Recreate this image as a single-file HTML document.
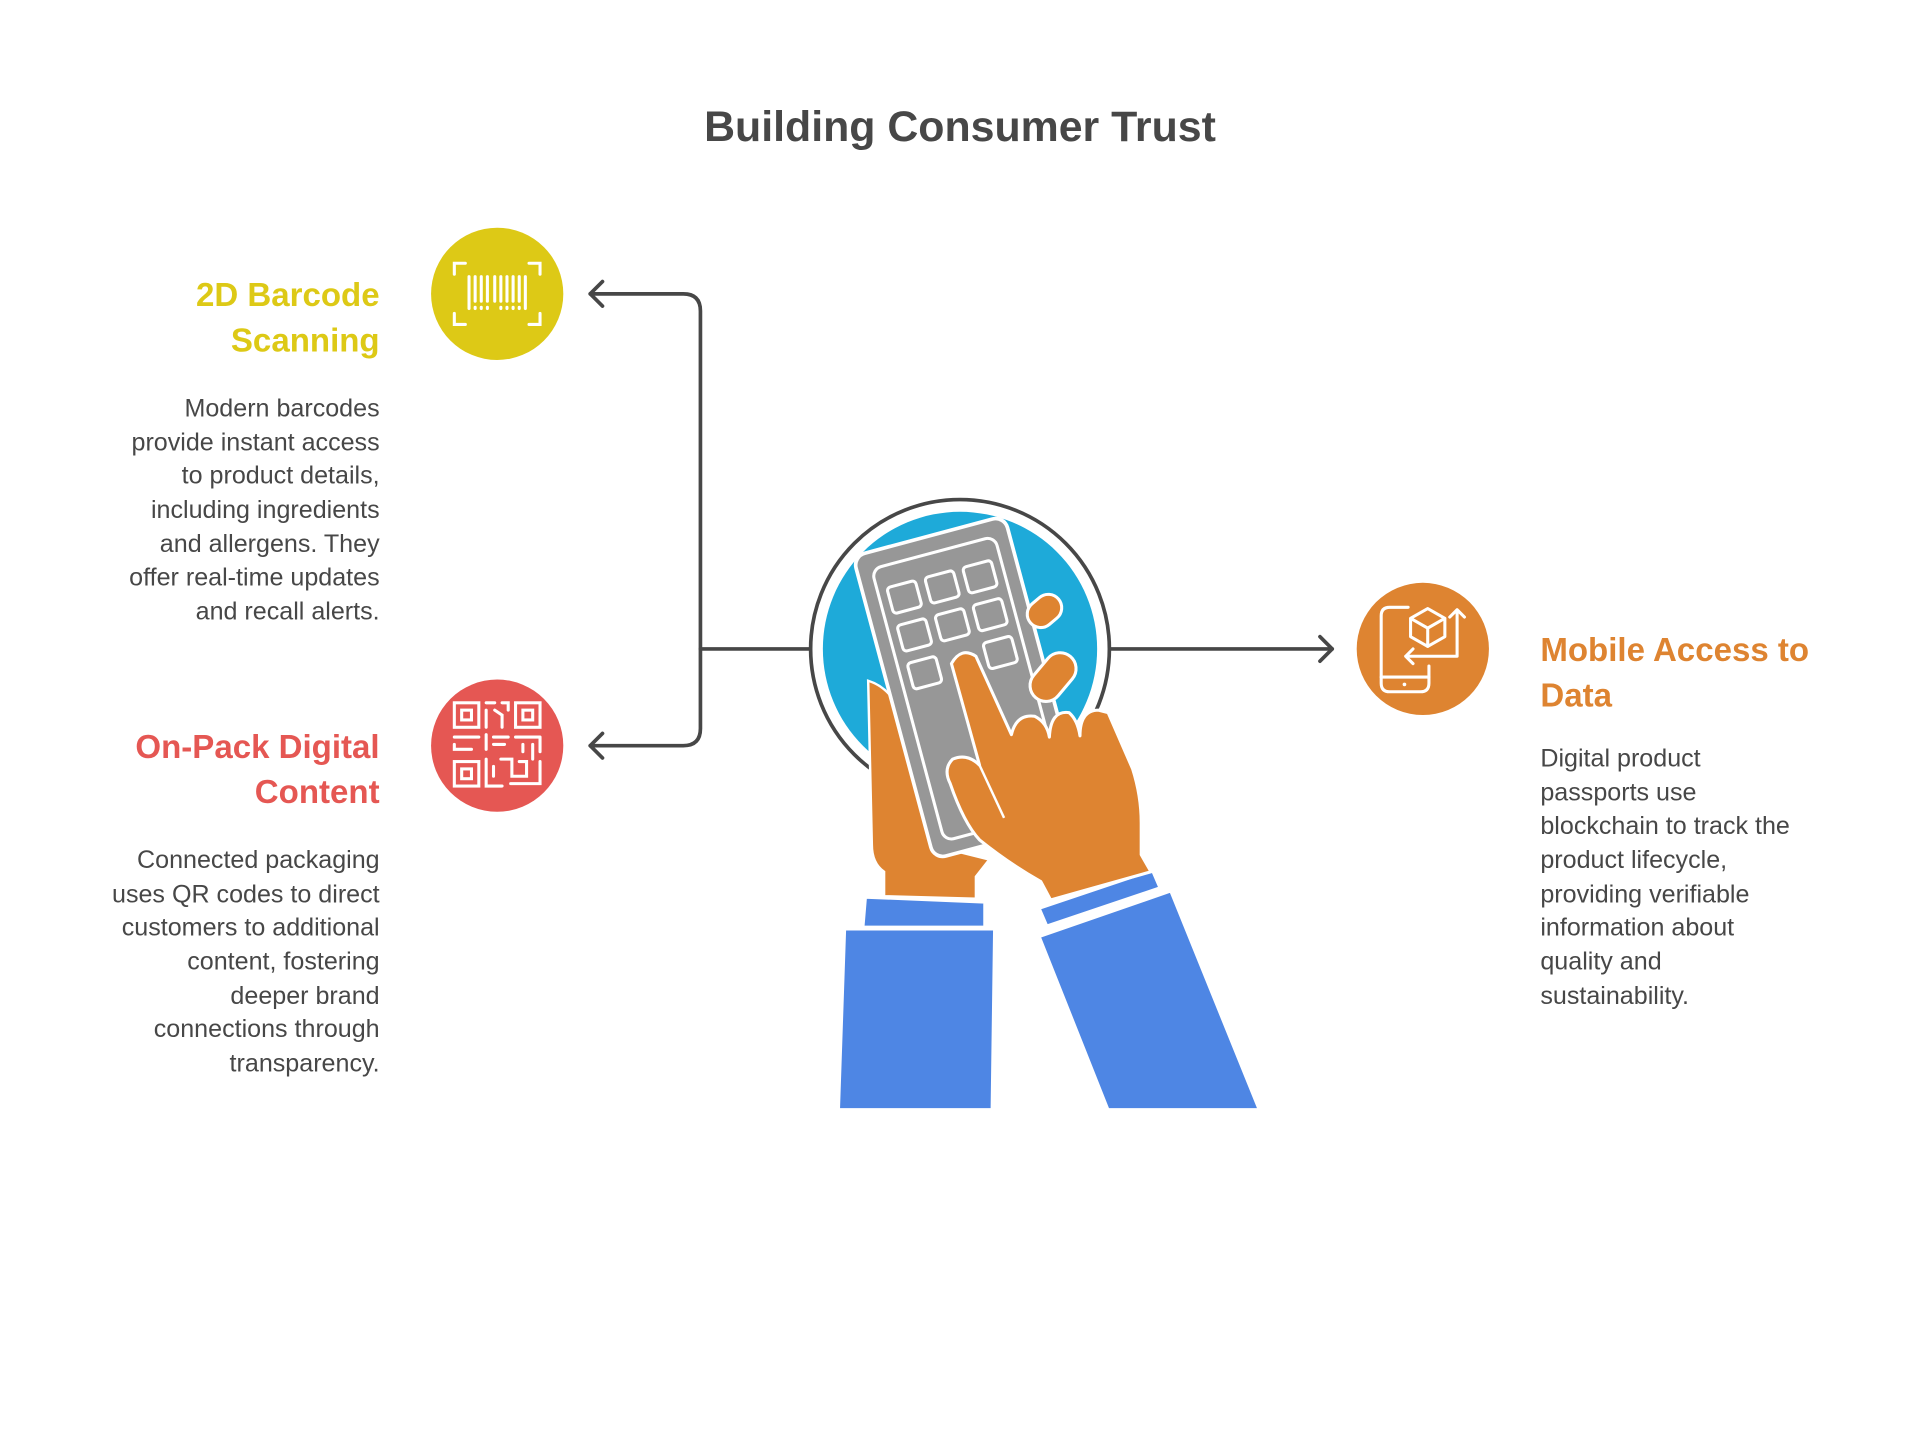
<!DOCTYPE html>
<html><head><meta charset="utf-8"><style>
html,body{margin:0;padding:0;background:#fff;}
svg{display:block;}
text{font-family:"Liberation Sans",sans-serif;}
</style></head><body>
<svg width="1920" height="1446" viewBox="0 0 1568 1181" xmlns="http://www.w3.org/2000/svg">
<rect width="1568" height="1181" fill="#fff"/>
<text x="784" y="115" text-anchor="middle" font-size="35" font-weight="bold" fill="#474747">Building Consumer Trust</text>

<!-- connectors -->
<g fill="none" stroke="#474747" stroke-width="3" stroke-linecap="round" stroke-linejoin="round">
<path d="M482 240 H558 Q572 240 572 254 V595 Q572 609 558 609 H482"/>
<path d="M492 230 L482 240 L492 250"/>
<path d="M492 599 L482 609 L492 619"/>
<path d="M572 530 H662"/>
<path d="M905 530 H1088"/>
<path d="M1078 520 L1088 530 L1078 540"/>
</g>

<!-- yellow circle -->
<circle cx="406" cy="240" r="54" fill="#DDC916"/>
<g stroke="#fff" stroke-width="2.5" fill="none" stroke-linecap="round">
<path d="M371 224 V215 H380 M432 215 H441 V224 M441 256 V265 H432 M380 265 H371 V256"/>
<path d="M383 226 V252 M388 226 V246 M393 226 V246 M398 226 V246 M404 226 V246 M409 226 V246 M414 226 V246 M419 226 V246 M424 226 V246 M429 226 V252"/>
<path d="M388 251 V252 M393 251 V252 M398 251 V252 M409 251 V252 M414 251 V252 M419 251 V252 M424 251 V252"/>
</g>

<!-- red circle -->
<circle cx="406" cy="609" r="54" fill="#E55753"/>
<g stroke="#fff" stroke-width="2.5" fill="none" stroke-linecap="round">
<rect x="371" y="574" width="20" height="20"/><rect x="377" y="580" width="8" height="8"/>
<rect x="421" y="574" width="20" height="20"/><rect x="427" y="580" width="8" height="8"/>
<rect x="371" y="622" width="20" height="20"/><rect x="377" y="628" width="8" height="8"/>
<path d="M397 574 H404 M397 580 V594 M404 580 L410 584 V594 M410 574 H415 V580"/>
<path d="M371 602 H391 M371 608 V612 H385 M397 600 V612 M403 602 H415 M403 608 H412 M421 602 H441 M427 608 V614 M435 608 V620 M441 602 V614"/>
<path d="M397 620 V642 H410 M403 626 V634 M409 620 H418 V634 H430 V622 H424 M441 622 V640 H417"/>
</g>

<!-- orange circle -->
<circle cx="1162" cy="530" r="54" fill="#DE8431"/>
<g stroke="#fff" stroke-width="2.5" fill="none" stroke-linecap="round" stroke-linejoin="round">
<path d="M1150 496 H1135 Q1128 496 1128 503 V558 Q1128 565 1135 565 H1160 Q1167 565 1167 558 V544"/>
<path d="M1128 553 H1167"/>
<circle cx="1147" cy="559" r="1.5" fill="#fff" stroke="none"/>
<path d="M1166 497 L1180 505 V520 L1166 528 L1152 520 V505 Z M1152 505 L1166 513 L1180 505 M1166 513 V528"/>
<path d="M1190 498 V536 H1148 M1154 530 L1148 536 L1154 542 M1184 504 L1190 498 L1196 504"/>
</g>

<!-- titles & bodies -->
<g font-weight="bold" font-size="27">
<text x="310" y="250" text-anchor="end" fill="#DDC916">2D Barcode</text>
<text x="310" y="287" text-anchor="end" fill="#DDC916">Scanning</text>
<text x="310" y="619" text-anchor="end" fill="#E55753">On-Pack Digital</text>
<text x="310" y="656" text-anchor="end" fill="#E55753">Content</text>
<text x="1258" y="540" fill="#DE8431">Mobile Access to</text>
<text x="1258" y="577" fill="#DE8431">Data</text>
</g>
<g font-size="20.5" fill="#474747">
<g text-anchor="end">
<text x="310" y="340">Modern barcodes</text>
<text x="310" y="368">provide instant access</text>
<text x="310" y="395">to product details,</text>
<text x="310" y="423">including ingredients</text>
<text x="310" y="451">and allergens. They</text>
<text x="310" y="478">offer real-time updates</text>
<text x="310" y="506">and recall alerts.</text>
<text x="310" y="709">Connected packaging</text>
<text x="310" y="737">uses QR codes to direct</text>
<text x="310" y="764">customers to additional</text>
<text x="310" y="792">content, fostering</text>
<text x="310" y="820">deeper brand</text>
<text x="310" y="847">connections through</text>
<text x="310" y="875">transparency.</text>
</g>
<text x="1258" y="626">Digital product</text>
<text x="1258" y="654">passports use</text>
<text x="1258" y="681">blockchain to track the</text>
<text x="1258" y="709">product lifecycle,</text>
<text x="1258" y="737">providing verifiable</text>
<text x="1258" y="764">information about</text>
<text x="1258" y="792">quality and</text>
<text x="1258" y="820">sustainability.</text>
</g>

<!-- central illustration -->
<circle cx="784" cy="530" r="122" fill="#fff" stroke="#474747" stroke-width="3"/>
<circle cx="784" cy="530" r="112" fill="#1EAAD9"/>

<!-- sleeves -->
<g fill="#4E86E4" stroke="#fff" stroke-width="2" stroke-linejoin="round">
<path d="M690 759 H812 L810 906 H685 Z"/>
<path d="M707 733 L804 737 V757 L705 757 Z"/>
<path d="M849 765 L956 728 L1028 906 H905 Z"/>
<path d="M849 742 L941 711 L947 725 L855 756 Z"/>
</g>

<!-- left hand -->
<path d="M709 556 Q722 560 730 572 L736 600 L760 690 L808 702 L797 716 L797 734 L722 732 L722 712 Q712 705 712 690 Z" fill="#DE8431" stroke="#fff" stroke-width="2"/>

<!-- phone -->
<g transform="translate(791.5 561.5) rotate(-15)">
<rect x="-64" y="-128" width="128" height="256" rx="10" fill="#979797" stroke="#fff" stroke-width="3"/>
<rect x="-52" y="-114" width="104" height="230" rx="8" fill="none" stroke="#fff" stroke-width="2.5"/>
<g fill="none" stroke="#fff" stroke-width="2.5">
<rect x="-44" y="-96" width="24" height="22" rx="3"/>
<rect x="-12" y="-96" width="24" height="22" rx="3"/>
<rect x="20" y="-96" width="24" height="22" rx="3"/>
<rect x="-44" y="-64" width="24" height="22" rx="3"/>
<rect x="-12" y="-64" width="24" height="22" rx="3"/>
<rect x="20" y="-64" width="24" height="22" rx="3"/>
<rect x="-44" y="-32" width="24" height="22" rx="3"/>
<rect x="20" y="-32" width="24" height="22" rx="3"/>
</g>
</g>

<!-- right hand -->
<g fill="#DE8431" stroke="#fff" stroke-width="2.5" stroke-linejoin="round">
<rect x="838" y="488" width="30" height="22" rx="11" transform="rotate(-40 853 499)"/>
<rect x="838" y="540" width="44" height="26" rx="13" transform="rotate(-50 860 553)"/>
<path d="M777 542 Q785 528 797 536 L826 600 Q830 583 845 585 Q855 590 857 602 Q858 580 873 582 Q880 588 882 601 Q882 580 897 580 L905 582 L925 628 Q932 650 932 672 V698 L940 712 L858 735 L850 720 Q825 706 800 686 Q787 672 776 640 Q770 628 778 620 Q790 615 800 625 Z"/>
</g>
<path d="M800 625 L820 668" stroke="#fff" stroke-width="2" fill="none"/>
</svg>
</body></html>
